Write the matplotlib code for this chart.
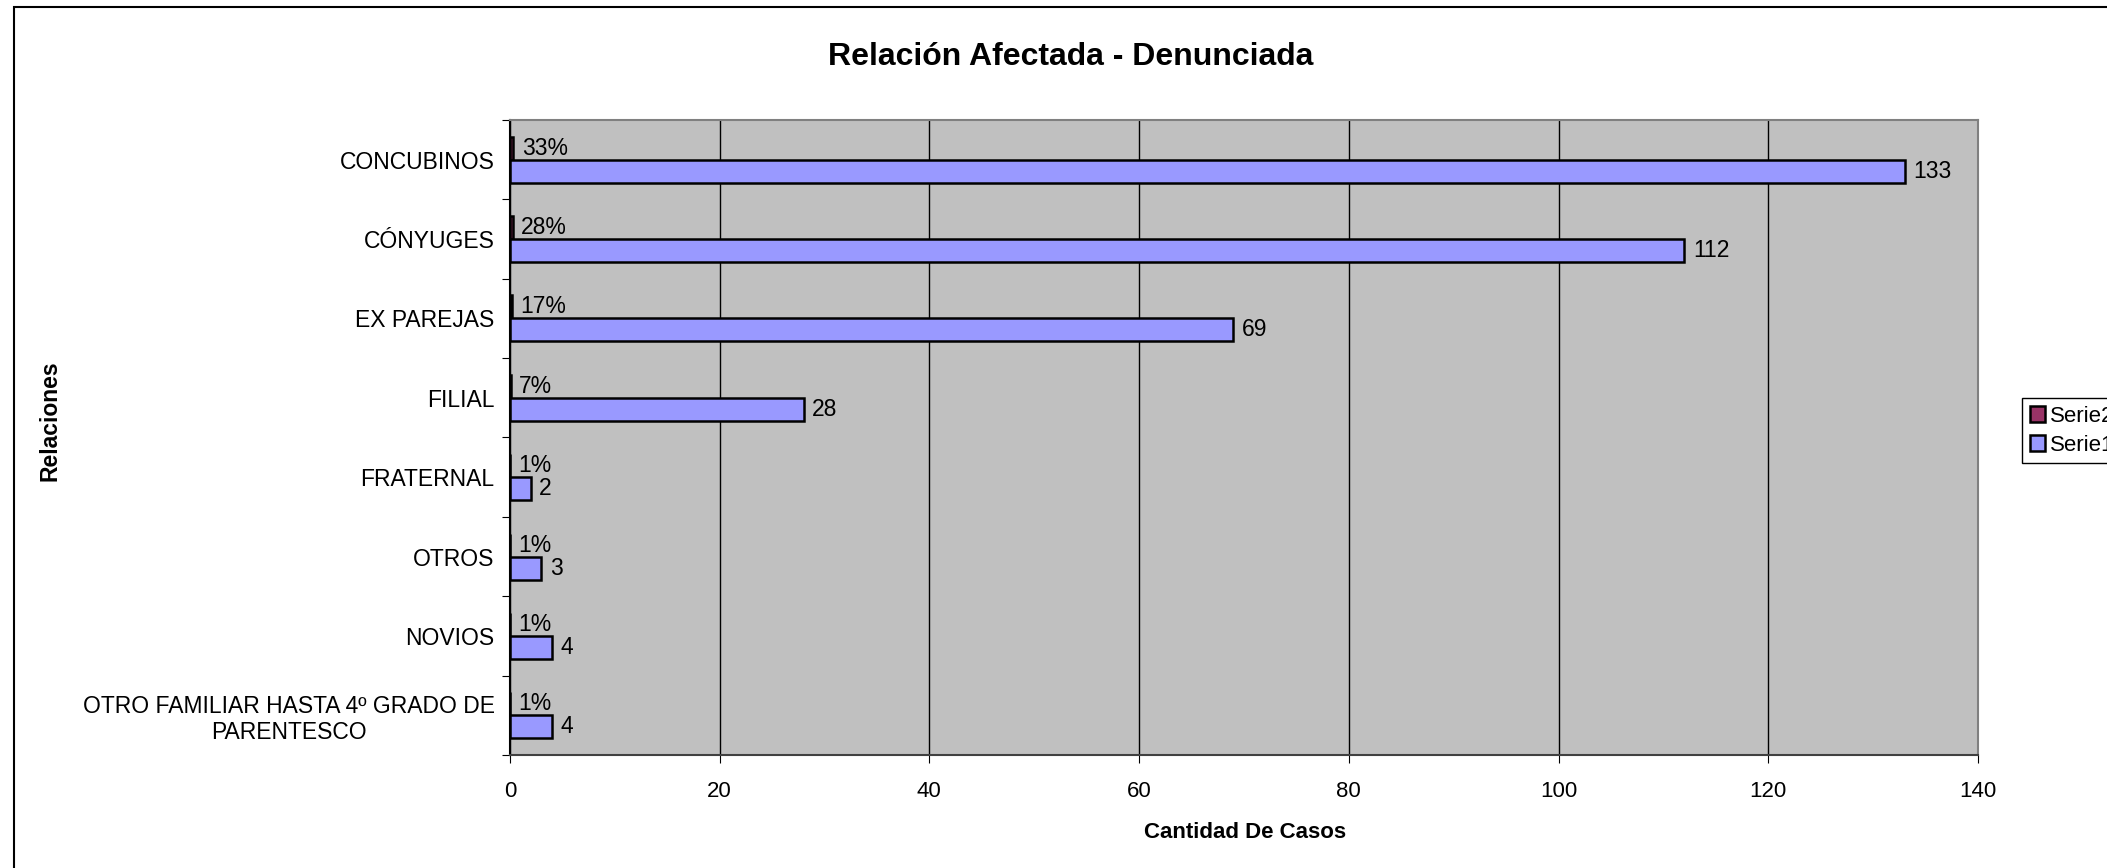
import numpy as np
import matplotlib
matplotlib.use("Agg")
import matplotlib.pyplot as plt
from matplotlib.patches import Rectangle, Patch

plt.rcParams['font.family'] = ['Liberation Sans', 'DejaVu Sans']

# data (top to bottom as in the chart)
relaciones = ["CONCUBINOS", "CÓNYUGES", "EX PAREJAS", "FILIAL", "FRATERNAL",
              "OTROS", "NOVIOS", "OTRO FAMILIAR HASTA 4º GRADO DE\nPARENTESCO"]
serie1 = [133, 112, 69, 28, 2, 3, 4, 4]
serie2 = [0.33, 0.28, 0.17, 0.07, 0.01, 0.01, 0.01, 0.01]
x_ticks = [0, 20, 40, 60, 80, 100, 120, 140]

fig = plt.figure(figsize=(21.07, 8.68), dpi=100)
ax = fig.add_axes([0.2420, 0.1302, 0.6968, 0.7316])
ax.set_facecolor("#C0C0C0")

y = np.arange(len(relaciones))
h = 0.29
b2 = ax.barh(y - h / 2, serie2, height=h, color="#993366", edgecolor="black", linewidth=1.8, label="Serie2")
b1 = ax.barh(y + h / 2, serie1, height=h, color="#9999FF", edgecolor="black", linewidth=1.8, label="Serie1")

ax.bar_label(b2, labels=[f"{v:.0%}" for v in serie2], padding=6, fontsize=16.5)
ax.bar_label(b1, labels=[str(v) for v in serie1], padding=6, fontsize=16.5)

ax.set_xlim(0, 140)
ax.set_ylim(len(relaciones) - 0.5, -0.5)
ax.set_xticks(x_ticks)
ax.tick_params(axis="x", labelsize=16, length=6, pad=13, direction="out")

# ticks on the category borders, labels at the centres
ax.set_yticks(np.arange(len(relaciones) + 1) - 0.5)
ax.set_yticklabels([])
ax.set_yticks(y, minor=True)
ax.set_yticklabels(relaciones, minor=True, fontsize=16.5, ha="right", multialignment="center")
ax.tick_params(axis="y", which="major", length=6, direction="out")
ax.tick_params(axis="y", which="minor", length=0, pad=11)

ax.grid(axis="x", color="black", linewidth=1)
ax.set_axisbelow(True)

ax.spines["left"].set_color("black")
ax.spines["left"].set_linewidth(1.5)
ax.spines["bottom"].set_color("#404040")
ax.spines["bottom"].set_linewidth(1.5)
ax.spines["top"].set_color("#808080")
ax.spines["right"].set_color("#808080")
ax.spines["top"].set_linewidth(1.5)
ax.spines["right"].set_linewidth(1.5)

fig.text(1071 / 2107, 1 - 57 / 868, "Relación Afectada - Denunciada", ha="center", va="center",
         fontsize=23, fontweight="bold")
fig.text(1245 / 2107, 1 - 832 / 868, "Cantidad De Casos", ha="center", va="center",
         fontsize=16, fontweight="bold")
fig.text(50 / 2107, 1 - 421 / 868, "Relaciones", ha="center", va="center", rotation=90,
         fontsize=16.5, fontweight="bold")

handles = [Patch(facecolor="#993366", edgecolor="black", linewidth=1.8),
           Patch(facecolor="#9999FF", edgecolor="black", linewidth=1.8)]
leg = fig.legend(handles, ["Serie2", "Serie1"], loc="upper left",
                 bbox_to_anchor=(2022 / 2107, 1 - 398 / 868), fontsize=16,
                 fancybox=False, framealpha=1, edgecolor="black",
                 handlelength=0.7, handleheight=0.7, handletextpad=0.2,
                 borderpad=0.35, labelspacing=0.35, borderaxespad=0)
leg.get_frame().set_linewidth(1)

# chart area border (runs off the right and bottom edges)
fig.patches.append(Rectangle((14 / 2107, -0.2), 1.2, 1 - 7 / 868 + 0.2, transform=fig.transFigure,
                             fill=False, edgecolor="black", linewidth=1.5))

fig.savefig("out.png", dpi=100)
